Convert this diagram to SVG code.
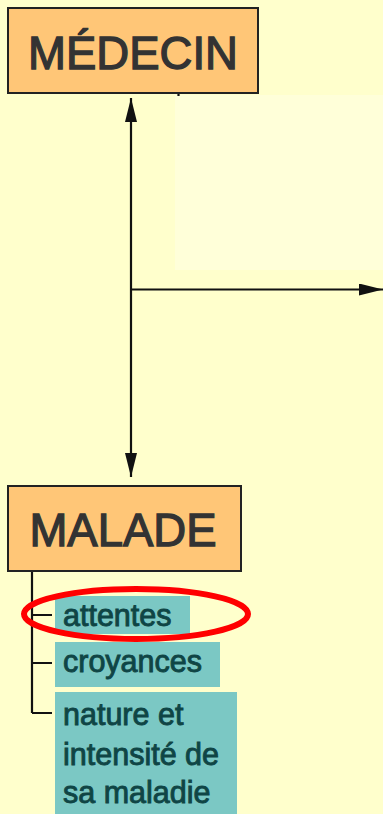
<svg xmlns="http://www.w3.org/2000/svg" width="383" height="814" viewBox="0 0 383 814">
<style>
.box{fill:#FFC677;stroke:#222;stroke-width:2}
.head{font-family:"Liberation Sans",Arial,sans-serif;font-size:45.5px;fill:#333;stroke:#333;stroke-width:1.3}
.tbox{fill:#7BC8C4}
.item{font-family:"Liberation Sans",Arial,sans-serif;font-size:30.5px;fill:#0F4545;stroke:#0F4545;stroke-width:0.9}
.ln{stroke:#111;stroke-width:2.2;fill:none}
</style>
<defs>
<marker id="ah" viewBox="0 0 24 12" refX="24" refY="6" markerWidth="24" markerHeight="12" markerUnits="userSpaceOnUse" orient="auto-start-reverse">
<path d="M0,0 L24,6 L0,12 z" fill="#111"/>
</marker>
</defs>
<rect width="383" height="814" fill="#FFFFCC"/>
<rect x="175" y="95" width="208" height="175" fill="#FFFFD9"/>
<g id="connectors">
<line class="ln" x1="131" y1="98" x2="131" y2="477" marker-start="url(#ah)" marker-end="url(#ah)"/>
<line class="ln" x1="131" y1="289.5" x2="383" y2="289.5" marker-end="url(#ah)"/>
<line class="ln" x1="178.5" y1="93" x2="178.5" y2="96" stroke-width="1.5"/>
<path class="ln" d="M32,571 V713 M32,615 H52 M32,663 H52 M32,713 H52" stroke-width="2"/>
</g>
<g id="medecin">
<rect class="box" x="8" y="8" width="250" height="85"/>
<text class="head" x="133" y="69" text-anchor="middle">MÉDECIN</text>
</g>
<g id="malade">
<rect class="box" x="8" y="486" width="233" height="85"/>
<text class="head" x="123" y="546" text-anchor="middle">MALADE</text>
</g>
<g id="attentes">
<rect class="tbox" x="55" y="596" width="135" height="38"/>
<text class="item" x="63" y="626">attentes</text>
</g>
<g id="croyances">
<rect class="tbox" x="55" y="642" width="165" height="45"/>
<text class="item" x="63" y="672">croyances</text>
</g>
<g id="nature">
<rect class="tbox" x="55" y="692" width="182" height="122"/>
<text class="item" x="63" y="725">nature et</text>
<text class="item" x="63" y="765">intensité de</text>
<text class="item" x="63" y="803">sa maladie</text>
</g>
<g id="highlight">
<ellipse cx="136" cy="614" rx="112" ry="25" fill="none" stroke="#FF0000" stroke-width="6"/>
</g>
</svg>
